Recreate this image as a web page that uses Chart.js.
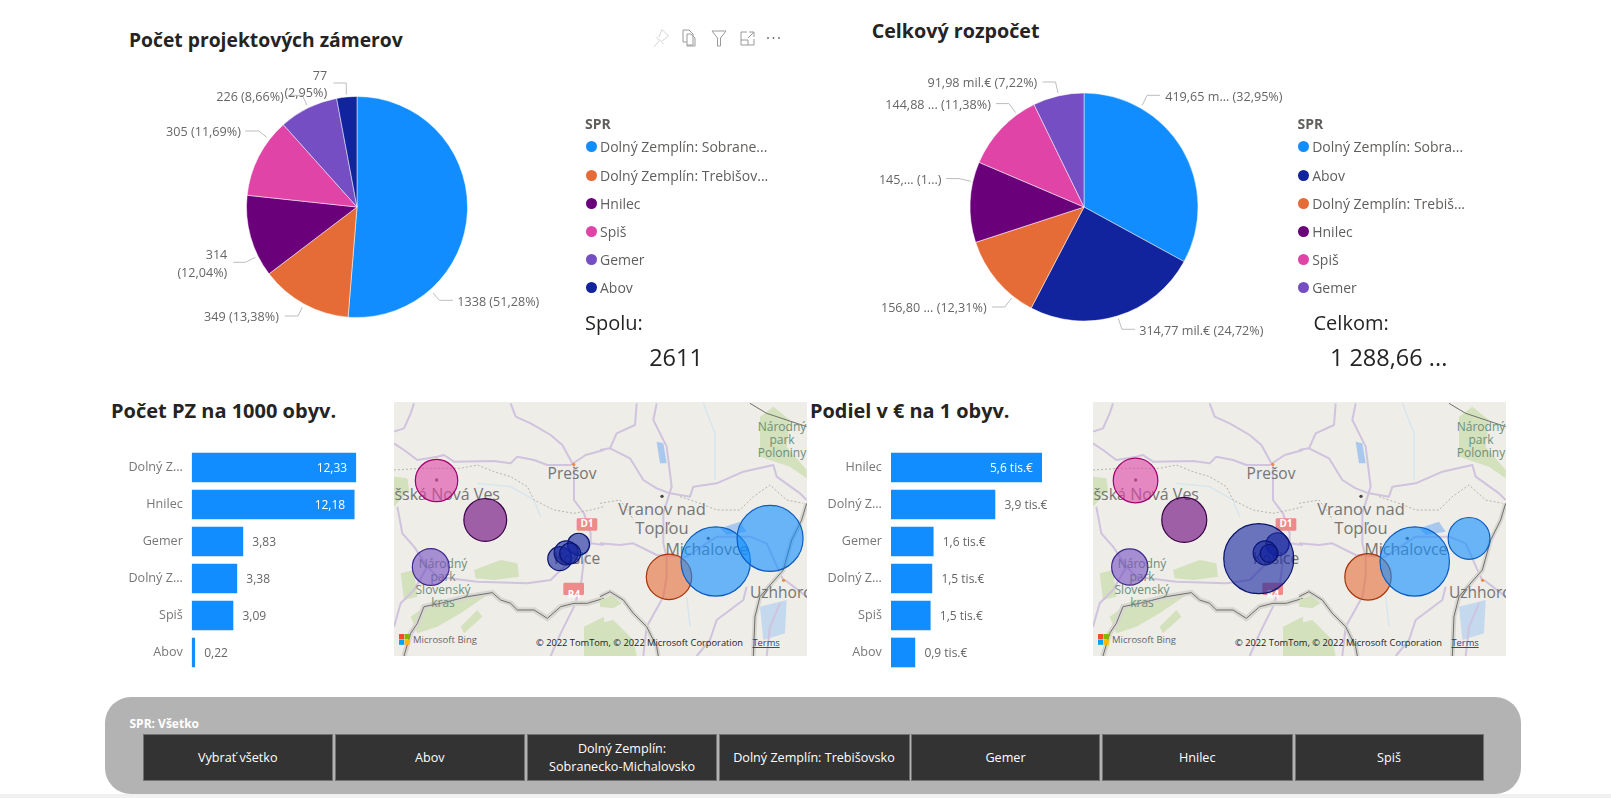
<!DOCTYPE html>
<html lang="sk">
<head>
<meta charset="utf-8">
<title>SPR</title>
<script src="https://cdn.jsdelivr.net/npm/chart.js@4/dist/chart.umd.min.js"></script>
<style>
  html, body { margin: 0; padding: 0; background: #fff; }
  body { width: 1611px; height: 798px; overflow: hidden; position: relative; font-family: "Open Sans", sans-serif; color: #605e5c; }
  .abs { position: absolute; white-space: nowrap; }
  canvas { position: absolute; display: block; }
  .title { font-weight: 700; font-size: 19.7px; color: #252423; line-height: 24px; transform: translateY(-50%); }
  .legend-head { font-weight: 700; font-size: 14px; color: #605e5c; transform: translateY(-50%); }
  .legend-item { font-size: 14px; color: #605e5c; transform: translateY(-50%); }
  .legend-dot { position: absolute; width: 11px; height: 11px; border-radius: 50%; margin: -5.5px 0 0 -5.5px; }
  .total-label { font-size: 20px; color: #252423; transform: translateY(-50%); }
  .total-value { font-size: 23.5px; color: #252423; transform: translate(-50%, -50%); }
  .map { position: absolute; width: 413px; height: 254px; overflow: hidden; background: #eeede8; }
  .map svg { position: absolute; left: 0; top: 0; }
  #slicer { position: absolute; left: 104.5px; top: 697px; width: 1416px; height: 97px; border-radius: 26px; background: #b3b3b3; }
  #slicer-title { position: absolute; left: 129.5px; top: 722.5px; font-size: 12px; font-weight: 700; color: #fff; transform: translateY(-50%); }
  .slicer-btn { position: absolute; top: 734px; height: 47px; box-sizing: border-box; background: #333; border: 1px solid #717171; color: #fff; font-size: 12.6px; line-height: 18px; display: flex; align-items: center; justify-content: center; text-align: center; }
  #footer { position: absolute; left: 0; top: 794px; width: 1611px; height: 4px; background: #f1f1f1; }
</style>
</head>
<body>
<div id="app"></div>
<script>
const LEGEND_HEAD = "SPR";

// pie 1 - pocet projektovych zamerov
const pie1Names = ["Dolný Zemplín: Sobrane...", "Dolný Zemplín: Trebišov...", "Hnilec", "Spiš", "Gemer", "Abov"];
const pie1Values = [1338, 349, 314, 305, 226, 77];
const pie1Colors = ["#118dff", "#e66c37", "#6b007b", "#e044a7", "#744ec2", "#12239e"];
const pie1Labels = [["1338 (51,28%)"], ["349 (13,38%)"], ["314", "(12,04%)"], ["305 (11,69%)"], ["226 (8,66%)"], ["77", "(2,95%)"]];

// pie 2 - celkovy rozpocet (mil. €)
const pie2Names = ["Dolný Zemplín: Sobra...", "Abov", "Dolný Zemplín: Trebiš...", "Hnilec", "Spiš", "Gemer"];
const pie2Values = [419.65, 314.77, 156.8, 145.45, 144.88, 91.98];
const pie2Colors = ["#118dff", "#12239e", "#e66c37", "#6b007b", "#e044a7", "#744ec2"];
const pie2Labels = [["419,65 m... (32,95%)"], ["314,77 mil.€ (24,72%)"], ["156,80 ... (12,31%)"], ["145,... (1...)"], ["144,88 ... (11,38%)"], ["91,98 mil.€ (7,22%)"]];

// bars
const bar1Categories = ["Dolný Z...", "Hnilec", "Gemer", "Dolný Z...", "Spiš", "Abov"];
const bar1Values = [12.33, 12.18, 3.83, 3.38, 3.09, 0.22];
const bar2Categories = ["Hnilec", "Dolný Z...", "Gemer", "Dolný Z...", "Spiš", "Abov"];
const bar2Values = [5.6, 3.86, 1.57, 1.52, 1.46, 0.89];

// map bubbles, lon/lat plus the drawn radius
const placeNames = ["Spiš", "Hnilec", "Gemer", "Abov 1", "Abov 2", "Abov 3", "Abov 4", "Trebišov", "Michalovce", "Sobrance"];
const placeLon = [20.554, 20.798, 20.525, 21.265, 21.171, 21.203, 21.223, 21.718, 21.952, 22.224];
const placeLat = [48.946, 48.818, 48.665, 48.739, 48.692, 48.711, 48.709, 48.633, 48.683, 48.758];
const placeFill = ["#e044a7", "#6b007b", "#744ec2", "#12239e", "#12239e", "#12239e", "#12239e", "#e66c37", "#118dff", "#118dff"];
const placeEdge = ["#a3006e", "#3a0045", "#3f2a8c", "#0a146e", "#0a146e", "#0a146e", "#0a146e", "#a83408", "#0a5cc0", "#0a5cc0"];
const map1Radius = [21.2, 21.4, 18.4, 11, 12, 12, 10.5, 22.7, 34.7, 33];
const map2Radius = [22.3, 22.5, 18.1, 11.5, 35, 12, 9, 23.2, 34.7, 20.9];

const slicerNames = ["Vybrať všetko", "Abov", "Dolný Zemplín:<br>Sobranecko-Michalovsko", "Dolný Zemplín: Trebišovsko", "Gemer", "Hnilec", "Spiš"];
const slicerLeft = [143, 334.5, 527, 718.5, 911, 1102, 1294.5];
const slicerRight = [332.5, 525, 717, 909.5, 1100, 1292.5, 1483.5];

// callout placement around each pie, relative to its centre
const pie1Callouts = [
  { x: 100.3, y: 95, align: "left", line: [[76, 86], [82.3, 93.3], [96, 93.3]] },
  { x: -78.1, y: 110.8, align: "right", line: [[-54.7, 100], [-58.9, 109], [-72.3, 109]] },
  { x: -129.7, y: 48.3, align: "right", line: [[-101.7, 50.3], [-111.7, 55.3], [-123.7, 55.3]], gap: 17.7 },
  { x: -116.1, y: -75, align: "right", line: [[-90.2, -69.7], [-98.2, -76], [-111.7, -76]] },
  { x: -73.2, y: -110, align: "right", line: [[-50, -101.7], [-54.7, -111.7], [-69.2, -111.7]] },
  { x: -29.9, y: -131, align: "right", line: [[-10.7, -112.4], [-10.7, -124], [-23.7, -124]], gap: 17 },
];
const pie2Callouts = [
  { x: 81.2, y: -110, align: "left", line: [[58.3, -101.7], [63, -111.7], [76, -111.7]] },
  { x: 55.2, y: 124, align: "left", line: [[34.4, 111.6], [37.9, 122.3], [50.9, 122.3]] },
  { x: -97.4, y: 101, align: "right", line: [[-72.3, 91], [-79.2, 100], [-92.2, 100]] },
  { x: -142.5, y: -26.7, align: "right", line: [[-113, -25.7], [-125, -28.4], [-137.8, -28.4]] },
  { x: -93.1, y: -101.7, align: "right", line: [[-68.4, -94.4], [-75, -103.4], [-88, -103.4]] },
  { x: -46.7, y: -124, align: "right", line: [[-26, -114], [-28.5, -125], [-41.5, -125]] },
];

const FONT = "'Open Sans', sans-serif";
const app = document.getElementById("app");

Chart.defaults.font.family = FONT;
Chart.defaults.animation = false;
Chart.defaults.responsive = false;
Chart.defaults.plugins.legend.display = false;
Chart.defaults.plugins.tooltip.enabled = false;

const pieCalloutPlugin = {
  id: "pieCallouts",
  afterDatasetsDraw(chart, args, opts) {
    const ctx = chart.ctx;
    const arc = chart.getDatasetMeta(0).data[0];
    ctx.save();
    ctx.font = `12.6px ${FONT}`;
    ctx.textBaseline = "middle";
    opts.callouts.forEach((c, i) => {
      ctx.strokeStyle = "#bdbdbd";
      ctx.lineWidth = 1;
      ctx.beginPath();
      c.line.forEach((p, n) => {
        if (n === 0) ctx.moveTo(arc.x + p[0], arc.y + p[1]);
        else ctx.lineTo(arc.x + p[0], arc.y + p[1]);
      });
      ctx.stroke();
      ctx.fillStyle = "#666666";
      ctx.textAlign = c.align;
      opts.labels[i].forEach((text, n) => {
        ctx.fillText(text, arc.x + c.x, arc.y + c.y + n * (c.gap || 0));
      });
    });
    ctx.restore();
  },
};

const barValuePlugin = {
  id: "barValues",
  afterDatasetsDraw(chart, args, opts) {
    const ctx = chart.ctx;
    const bars = chart.getDatasetMeta(0).data;
    const values = chart.data.datasets[0].data;
    const full = chart.scales.x.getPixelForValue(Math.max(...values));
    ctx.save();
    ctx.font = `12px ${FONT}`;
    ctx.textBaseline = "middle";
    bars.forEach((bar, i) => {
      const text = opts.format(values[i]);
      // labels only go inside the bar when the bar is long enough
      const inside = bar.x > full - 30;
      ctx.fillStyle = inside ? "#ffffff" : "#666666";
      ctx.textAlign = inside ? "right" : "left";
      ctx.fillText(text, inside ? bar.x - 9 : bar.x + 9.5, bar.y + 1);
    });
    ctx.restore();
  },
};

function addCanvas(left, top, width, height) {
  const canvas = document.createElement("canvas");
  canvas.width = width;
  canvas.height = height;
  canvas.style.left = left + "px";
  canvas.style.top = top + "px";
  app.appendChild(canvas);
  return canvas;
}

function addText(className, left, top, html) {
  const el = document.createElement("div");
  el.className = "abs " + className;
  el.style.left = left + "px";
  el.style.top = top + "px";
  el.innerHTML = html;
  app.appendChild(el);
  return el;
}

function drawPie(cx, cy, radius, values, colors, labels, callouts) {
  const width = 480;
  const height = 340;
  const canvas = addCanvas(cx - width / 2, cy - height / 2, width, height);
  new Chart(canvas, {
    type: "pie",
    data: {
      datasets: [{ data: values, backgroundColor: colors, borderColor: "rgba(255,255,255,0.7)", borderWidth: 0.7, radius }],
    },
    options: {
      plugins: { pieCallouts: { callouts, labels } },
    },
    plugins: [pieCalloutPlugin],
  });
}

function drawLegend(headX, dotX, textX, names, colors) {
  const rowsY = [146.7, 175, 203, 231, 259, 287];
  addText("legend-head", headX, 123, LEGEND_HEAD);
  names.forEach((name, i) => {
    const dot = document.createElement("div");
    dot.className = "legend-dot";
    dot.style.left = dotX + "px";
    dot.style.top = rowsY[i] + "px";
    dot.style.background = colors[i];
    app.appendChild(dot);
    addText("legend-item", textX, rowsY[i] - 0.5, name);
  });
}

function drawBars(left, top, barLeft, barWidth, categories, values, format) {
  const width = 300;
  const height = 240;
  const canvas = addCanvas(left, top, width, height);
  new Chart(canvas, {
    type: "bar",
    data: {
      labels: categories,
      datasets: [{ data: values, backgroundColor: "#118dff", barThickness: 29, borderWidth: 0 }],
    },
    options: {
      indexAxis: "y",
      layout: { padding: { top: 449 - top, bottom: top + height - 671, right: width - (barLeft - left) - barWidth } },
      scales: {
        x: { display: false, min: 0, max: Math.max(...values) },
        y: {
          afterFit: (scale) => {
            scale.width = barLeft - left;
            scale.paddingTop = 0;
            scale.paddingBottom = 0;
          },
          border: { display: false },
          grid: { display: false, drawTicks: false },
          ticks: { color: "#777777", font: { size: 12.6 }, padding: 9, autoSkip: false },
        },
      },
      plugins: { barValues: { format } },
    },
    plugins: [barValuePlugin],
  });
}

function drawMap(left, top, radius) {
  const box = document.createElement("div");
  box.className = "map";
  box.style.left = left + "px";
  box.style.top = top + "px";
  box.innerHTML = BASEMAP;
  app.appendChild(box);

  const canvas = document.createElement("canvas");
  canvas.width = 413;
  canvas.height = 254;
  canvas.style.left = "0";
  canvas.style.top = "0";
  box.appendChild(canvas);

  const points = placeLon.map((lon, i) => ({ x: lon, y: placeLat[i], r: radius[i] }));
  new Chart(canvas, {
    type: "bubble",
    data: {
      datasets: [{
        data: points,
        backgroundColor: placeFill.map((c) => c + "99"),
        borderColor: placeEdge,
        borderWidth: 1.2,
        hoverRadius: 0,
      }],
    },
    options: {
      layout: { autoPadding: false, padding: 0 },
      scales: {
        x: { display: false, min: 20.341, max: 22.409 },
        y: { display: false, min: 48.376, max: 49.201 },
      },
    },
  });
}

const BASEMAP = `<svg width="413" height="254" viewBox="0 0 413 254" font-family="Open Sans, sans-serif">
  <g style="filter:blur(0.6px)">
  <g transform="translate(0,-2) scale(0.33333)">
    <g fill="#d3e1bd">
      <path d="M0,230 L40,235 L45,270 L10,310 L0,320Z"/>
      <path d="M240,510 L320,480 L370,490 L375,530 L300,540 L245,535Z"/>
      <path d="M20,520 L60,510 L70,590 L30,600Z"/>
      <path d="M50,650 L120,600 L280,585 L200,640 L130,680 L70,700Z"/>
      <path d="M200,680 L250,630 L265,650 L210,700Z"/>
      <path d="M570,680 L630,650 L630,768 L570,768Z"/>
    </g>
    <path d="M250,250 L350,260 L420,300 L440,350" fill="none" stroke="#d5e5ee" stroke-width="4"/>
    <g fill="none" stroke="#cfc3de" stroke-width="6" stroke-linejoin="round">
      <path d="M0,130 L30,150 L70,180 L130,170 L150,165 L180,185 L300,183 L350,190 L370,170 L420,180 L460,195 L530,195 L575,165 L630,150"/>
      <path d="M350,10 L365,50 L410,70 L470,105 L505,135 L535,190"/>
      <path d="M540,190 L540,300 L570,340 L590,400 L590,430 L630,435"/>
      <path d="M590,430 L570,480 L560,560 L540,620 L500,700 L470,768"/>
      <path d="M0,95 L30,85 L50,40 L60,10"/>
      <path d="M10,320 L25,400 L60,440 L100,500 L130,530 L250,545 L400,550 L470,540 L530,480"/>
      <path d="M100,500 L60,570 L20,610 L0,680"/>
    </g>
    <path d="M0,210 L80,205 L200,205 L250,195 L300,215 L350,230 L400,260 L420,300 L480,330 L540,340 L590,330 L630,320" fill="none" stroke="#b5b3ac" stroke-width="3" stroke-dasharray="6 6"/>
    <path d="M30,768 L50,700 L70,670 L90,620 L140,610 L220,590 L295,578 L320,600 L350,610 L370,630 L420,630 L460,655 L500,620 L540,610 L580,610 L630,595" fill="none" stroke="#d8d6d0" stroke-width="16"/>
    <path d="M30,768 L50,700 L70,670 L90,620 L140,610 L220,590 L295,578 L320,600 L350,610 L370,630 L420,630 L460,655 L500,620 L540,610 L580,610 L630,595" fill="none" stroke="#6e6e6a" stroke-width="3"/>
    <circle cx="539" cy="193" r="5" fill="#f08a3c"/>
    <circle cx="128" cy="240" r="5" fill="#555"/>
    <rect x="548" y="355" width="62" height="37" rx="4" fill="#ee8a8a"/>
    <rect x="508" y="548" width="62" height="37" rx="4" fill="#ee8a8a"/>
  </g>
  <g transform="translate(206,-2) scale(0.33333)">
    <g fill="#d3e1bd">
      <path d="M480,50 L520,20 L570,60 L560,140 L620,210 L620,235 L570,200 L480,170Z"/>
      <path d="M0,600 L35,585 L65,610 L40,625 L0,620Z"/>
      <path d="M0,670 L40,660 L100,720 L110,768 L0,768Z"/>
    </g>
    <g fill="#a9c8ee">
      <path d="M360,385 L420,365 L440,395 L380,405Z"/>
      <path d="M170,125 L190,130 L200,190 L180,190Z"/>
    </g>
    <path d="M480,620 L560,600 L555,700 L490,720Z" fill="#c4d9ee"/>
    <g fill="none" stroke="#d5e5ee" stroke-width="4">
      <path d="M310,10 L345,100 L345,240"/>
      <path d="M260,590 L270,680"/>
    </g>
    <g fill="none" stroke="#cfc3de" stroke-width="6" stroke-linejoin="round">
      <path d="M0,150 L30,145 L90,175 L130,240 L170,265 L210,280"/>
      <path d="M30,145 L50,100 L105,75 L110,10"/>
      <path d="M170,10 L160,60 L200,140 L215,260 L190,340 L190,430 L200,470 L200,530 L190,590 L140,680 L130,768"/>
      <path d="M210,280 L270,290 L280,260 L350,250 L430,215 L520,195 L530,230 L600,280 L620,300"/>
      <path d="M0,430 L60,435 L100,430 L170,465 L260,470 L350,410 L450,410 L500,430 L540,520 L550,540"/>
      <path d="M440,560 L430,600 L350,660 L330,720 L290,768"/>
      <path d="M555,540 L620,590"/>
      <path d="M540,610 L510,680 L500,768"/>
    </g>
    <path d="M0,310 L60,300 L90,340 L100,360 M240,290 L300,310 L350,330 L420,330 L460,290 L510,255 L560,300 L610,310" fill="none" stroke="#b5b3ac" stroke-width="3" stroke-dasharray="6 6"/>
    <g fill="none" stroke="#d8d6d0" stroke-width="14">
      <path d="M0,590 L30,575 L70,600 L100,640 L140,680 L170,740 L175,768"/>
      <path d="M620,310 L605,360 L575,420 L550,510 L480,590 L465,650 L460,768"/>
    </g>
    <g fill="none" stroke="#6e6e6a" stroke-width="3">
      <path d="M0,590 L30,575 L70,600 L100,640 L140,680 L170,740 L175,768"/>
      <path d="M620,310 L605,360 L575,420 L550,510 L480,590 L465,650 L460,768"/>
      <path d="M450,10 L500,40 L560,60 L620,80"/>
    </g>
    <circle cx="186" cy="289" r="5" fill="#444"/>
    <circle cx="325" cy="415" r="5" fill="#555"/>
    <circle cx="551" cy="541" r="5" fill="#f08a3c"/>
  </g>
  </g>
  <g fill="#757575" text-anchor="middle">
    <text x="178" y="77" font-size="15.5">Prešov</text>
    <text x="106" y="98" font-size="16" text-anchor="end">Spišská Nová Ves</text>
    <text x="183" y="162" font-size="15.5">Košice</text>
    <text x="268" y="113" font-size="16.5">Vranov nad</text>
    <text x="268" y="132" font-size="16.5">Topľou</text>
    <text x="313" y="153" font-size="16">Michalovce</text>
    <text x="356" y="196" font-size="15.5" text-anchor="start">Uzhhorod</text>
  </g>
  <g fill="#6d8f7a" text-anchor="middle" font-size="12">
    <text x="49" y="166">Národný</text>
    <text x="49" y="179">park</text>
    <text x="49" y="192">Slovenský</text>
    <text x="49" y="205">kras</text>
    <text x="388" y="29">Národný</text>
    <text x="388" y="42">park</text>
    <text x="388" y="55">Poloniny</text>
  </g>
  <g fill="#fff" font-size="10" font-weight="700" text-anchor="middle">
    <text x="193" y="125">D1</text>
    <text x="180" y="196">R4</text>
  </g>
  <rect x="5" y="232" width="5.2" height="5.2" fill="#f25022"/>
  <rect x="10.6" y="232" width="5.2" height="5.2" fill="#7fba00"/>
  <rect x="5" y="237.6" width="5.2" height="5.2" fill="#00a4ef"/>
  <rect x="10.6" y="237.6" width="5.2" height="5.2" fill="#ffb900"/>
  <text x="19" y="241" font-size="9.5" fill="#666">Microsoft Bing</text>
  <text x="142" y="244" font-size="9.3" fill="#222">© 2022 TomTom, © 2022 Microsoft Corporation</text>
  <text x="358.5" y="244" font-size="9.3" fill="#1a3fa0" text-decoration="underline">Terms</text>
</svg>`;

const ICONS = `<svg class="abs" style="left:650px;top:26px" width="135" height="24" viewBox="0 0 135 24" fill="none" stroke="#9a9a9a" stroke-width="1">
  <path d="M4,21 L9.5,14.5 M6,10.5 L13.5,18 M12,3.5 L18.5,10 M12,3.5 L9,11 M18.5,10 L12,15" stroke="#d4d4d4"/>
  <path d="M33,4 H39 L43,8 V19 H37 M33,4 V16 H37 M37,8 H41 L45,12 V20 H37Z" stroke-width="1"/>
  <path d="M62,5 H76 L70.5,12 V20 H67.5 V12Z"/>
  <path d="M91,6 H97 M91,6 V19 H104 V13 M91,14 H98 V19 M99,6 H104 V11 M98,12 L104,6"/>
  <circle cx="118" cy="12" r="0.9" fill="#666" stroke="none"/>
  <circle cx="123.5" cy="12" r="0.9" fill="#666" stroke="none"/>
  <circle cx="129" cy="12" r="0.9" fill="#666" stroke="none"/>
</svg>`;

function drawSlicer() {
  const panel = document.createElement("div");
  panel.id = "slicer";
  app.appendChild(panel);
  const title = document.createElement("div");
  title.id = "slicer-title";
  title.textContent = "SPR: Všetko";
  app.appendChild(title);
  slicerNames.forEach((name, i) => {
    const btn = document.createElement("div");
    btn.className = "slicer-btn";
    btn.style.left = slicerLeft[i] + "px";
    btn.style.width = slicerRight[i] - slicerLeft[i] + "px";
    btn.innerHTML = name;
    app.appendChild(btn);
  });
  const footer = document.createElement("div");
  footer.id = "footer";
  app.appendChild(footer);
}

function formatPlain(value) {
  return value.toFixed(2).replace(".", ",");
}

function formatThousands(value) {
  return value.toFixed(1).replace(".", ",") + " tis.€";
}

// top row
addText("title", 129, 40, "Počet projektových zámerov").style.fontSize = "19.3px";
addText("title", 871.7, 31, "Celkový rozpočet");
drawPie(356.7, 206.7, 110.5, pie1Values, pie1Colors, pie1Labels, pie1Callouts);
drawPie(1084, 206.7, 114, pie2Values, pie2Colors, pie2Labels, pie2Callouts);
drawLegend(585, 591.5, 600, pie1Names, pie1Colors);
drawLegend(1297.5, 1303.6, 1312.2, pie2Names, pie2Colors);
addText("total-label", 585, 322, "Spolu:");
addText("total-value", 676, 357, "2611");
addText("total-label", 1313.5, 322, "Celkom:");
addText("total-value", 1388.6, 357, "1 288,66 ...");
app.insertAdjacentHTML("beforeend", ICONS);

// middle row
addText("title", 111, 410.7, "Počet PZ na 1000 obyv.").style.fontSize = "20px";
addText("title", 810, 410.7, "Podiel v € na 1 obyv.").style.fontSize = "19.9px";
drawBars(100, 440, 191.8, 164.4, bar1Categories, bar1Values, formatPlain);
drawBars(800, 440, 890.9, 151, bar2Categories, bar2Values, formatThousands);
drawMap(394, 402, map1Radius);
drawMap(1093, 402, map2Radius);

// bottom
drawSlicer();
</script>
</body>
</html>
